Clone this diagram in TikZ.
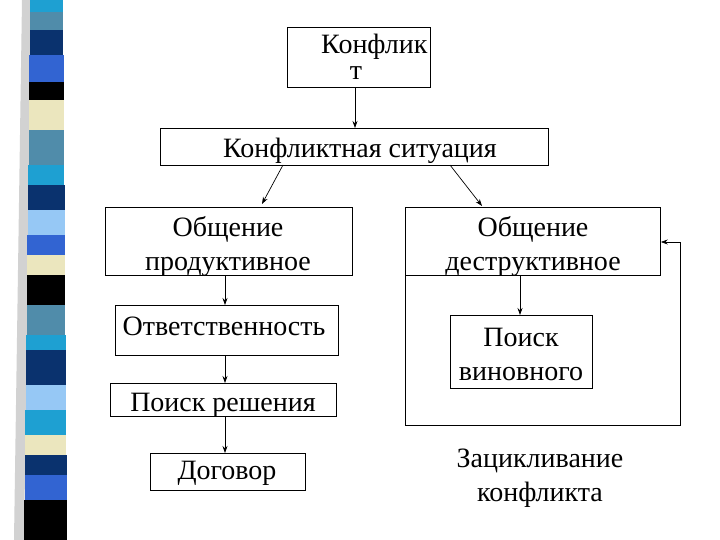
\documentclass[tikz,border=0pt]{standalone}
\usepackage{fontspec}
\setmainfont{Liberation Serif}
\usetikzlibrary{arrows.meta}
\begin{document}
\begin{tikzpicture}[x=1pt,y=-1pt,
  box/.style={draw,line width=0.8pt,fill=white},
  txt/.style={font=\fontsize{28}{34}\selectfont,align=center,inner sep=0pt},
  arr/.style={-{Stealth[length=7pt,width=5pt]},line width=0.7pt}]
\useasboundingbox (0,0) rectangle (720,540);
\fill[white] (0,0) rectangle (720,540);
% side strip
\fill[gray!35] (22,0) -- (32,0) -- (24,540) -- (14,540) -- cycle;
\foreach \a/\b/\c in {0/12/{rgb,255:red,30;green,160;blue,210},12/30/{rgb,255:red,80;green,140;blue,170},30/55/{rgb,255:red,10;green,50;blue,110},55/82/{rgb,255:red,50;green,100;blue,210},82/100/black,100/130/{rgb,255:red,235;green,230;blue,190},130/165/{rgb,255:red,80;green,140;blue,170},165/185/{rgb,255:red,30;green,160;blue,210},185/210/{rgb,255:red,10;green,50;blue,110},210/235/{rgb,255:red,150;green,200;blue,245},235/255/{rgb,255:red,50;green,100;blue,210},255/275/{rgb,255:red,235;green,230;blue,190},275/305/black,305/335/{rgb,255:red,80;green,140;blue,170},335/350/{rgb,255:red,30;green,160;blue,210},350/385/{rgb,255:red,10;green,50;blue,110},385/410/{rgb,255:red,150;green,200;blue,245},410/435/{rgb,255:red,30;green,160;blue,210},435/455/{rgb,255:red,235;green,230;blue,190},455/475/{rgb,255:red,10;green,50;blue,110},475/500/{rgb,255:red,50;green,100;blue,210},500/540/black}
  {\fill[color=\c] ({30-6*\a/540},\a) rectangle ({63+4*\b/540},\b);}
% boxes
\node[box,minimum width=143,minimum height=60,anchor=north west] (k) at (287,27) {};
\node[txt,anchor=north west] at (321,34) {Конфлик};
\node[txt,anchor=north] at (356,66) {т};
\node[box,minimum width=388,minimum height=37,anchor=north west] (s) at (160,128) {};
\node[txt] at (360,151) {Конфликтная ситуация};
\node[box,minimum width=247,minimum height=68,anchor=north west] (p) at (105,207) {};
\node[txt] at (228,246) {Общение\\продуктивное};
\node[box,minimum width=255,minimum height=68,anchor=north west] (d) at (405,207) {};
\node[txt] at (533,246) {Общение\\деструктивное};
\node[box,minimum width=223,minimum height=50,anchor=north west] (o) at (115,305) {};
\node[txt] at (224,326) {Ответственность};
\node[box,minimum width=142,minimum height=73,anchor=north west] (v) at (450,315) {};
\node[txt] at (521,354) {Поиск\\виновного};
\node[box,minimum width=226,minimum height=33,anchor=north west] (r) at (110,383) {};
\node[txt] at (223,405) {Поиск решения};
\node[box,minimum width=155,minimum height=37,anchor=north west] (g) at (150,453) {};
\node[txt] at (227,473) {Договор};
\node[txt] (z) at (540,478) {Зацикливание\\конфликта};
% arrows
\draw[arr] (k.south -| 355,0) -- (s.north -| 355,0);
\draw[arr] (283,165) -- (262,204);
\draw[arr] (450,165) -- (482,206);
\draw[arr] (p.south -| 225,0) -- (o.north -| 225,0);
\draw[arr] (o.south -| 225,0) -- (r.north -| 225,0);
\draw[arr] (r.south -| 225,0) -- (g.north -| 225,0);
\draw[arr] (d.south -| 520,0) -- (v.north -| 520,0);
\draw[arr] (d.south west) -- (405,425) -- (680,425) -- (680,242) -- (d.east |- 0,242);
\end{tikzpicture}
\end{document}
